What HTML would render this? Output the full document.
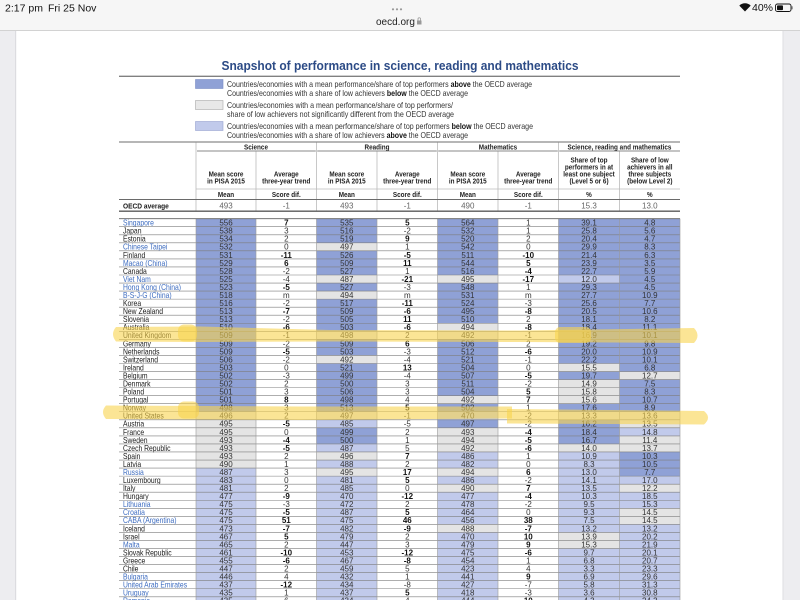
<!DOCTYPE html>
<html><head><meta charset="utf-8"><style>
body{margin:0;width:800px;height:600px;overflow:hidden;background:#fff}
svg{display:block}
text{font-family:"Liberation Sans",Arial,sans-serif}
.d text{font-size:8px;fill:#333;text-anchor:middle}
.d text.k{font-weight:bold;fill:#111}
.d text.n{text-anchor:start;fill:#1a1a1a}
.d text.p{fill:#3d6cc0}
.b{fill:#8fa1d6}.l{fill:#c1caeb}.g{fill:#e4e4e4}
.h text{font-size:7.3px;font-weight:bold;fill:#222;text-anchor:middle}
.lg text{font-size:8.2px;fill:#333}
</style></head><body>
<svg width="800" height="600" viewBox="0 0 800 600" xmlns="http://www.w3.org/2000/svg">
<!-- browser chrome -->
<rect x="0" y="0" width="800" height="31" fill="#f6f6f6"/>
<line x1="0" y1="30.5" x2="800" y2="30.5" stroke="#d2d2d2" stroke-width="1"/>
<text x="5" y="11.5" font-size="10.5" fill="#111">2:17 pm</text>
<text x="48" y="11.5" font-size="10.5" fill="#111">Fri 25 Nov</text>
<circle cx="393" cy="9.3" r="1.1" fill="#999"/><circle cx="397" cy="9.3" r="1.1" fill="#999"/><circle cx="401" cy="9.3" r="1.1" fill="#999"/>
<text x="376" y="25" font-size="10" fill="#222">oecd.org</text>
<rect x="417" y="20.5" width="4.5" height="4" fill="#999"/><path d="M418 20.5v-1.5a1.25 1.25 0 0 1 2.5 0v1.5" stroke="#999" stroke-width="0.8" fill="none"/>
<path d="M745 11.5 L739.3 5.6 A8.2 8.2 0 0 1 750.7 5.6 Z" fill="#111"/>
<text x="752" y="11" font-size="10.5" fill="#111">40%</text>
<rect x="775.5" y="4" width="15.5" height="7.5" rx="2" fill="none" stroke="#111" stroke-width="0.9"/>
<rect x="777" y="5.4" width="6" height="4.7" rx="0.8" fill="#111"/>
<rect x="791.6" y="6.3" width="1.2" height="3" fill="#888"/>
<!-- side margins -->
<rect x="0" y="31" width="16" height="569" fill="#ededf0"/>
<rect x="15" y="31" width="1.2" height="569" fill="#dcdce0"/>
<rect x="783" y="31" width="17" height="569" fill="#ededf0"/>
<rect x="782.5" y="31" width="1" height="569" fill="#dedee2"/>

<!-- title -->
<text x="400" y="70" text-anchor="middle" font-size="13" font-weight="bold" fill="#2c4b86" textLength="357" lengthAdjust="spacingAndGlyphs">Snapshot of performance in science, reading and mathematics</text>
<line x1="119" y1="76.3" x2="680" y2="76.3" stroke="#808080" stroke-width="1.3"/>

<!-- legend -->
<g class="lg">
<rect x="195.5" y="79.5" width="27.5" height="9" fill="#8fa1d6" stroke="#7a8cc4" stroke-width="0.6"/>
<rect x="195.5" y="100.5" width="27.5" height="9" fill="#e8e8e8" stroke="#a8a8a8" stroke-width="0.6"/>
<rect x="195.5" y="121.5" width="27.5" height="9" fill="#c1caeb" stroke="#97a2cf" stroke-width="0.6"/>
<text x="227" y="86.8" textLength="305" lengthAdjust="spacingAndGlyphs">Countries/economies with a mean performance/share of top performers <tspan font-weight="bold" fill="#111">above</tspan> the OECD average</text>
<text x="227" y="95.8" textLength="241" lengthAdjust="spacingAndGlyphs">Countries/economies with a share of low achievers <tspan font-weight="bold" fill="#111">below</tspan> the OECD average</text>
<text x="227" y="107.8" textLength="226" lengthAdjust="spacingAndGlyphs">Countries/economies with a mean performance/share of top performers/</text>
<text x="227" y="116.8" textLength="227" lengthAdjust="spacingAndGlyphs">share of low achievers not significantly different from the OECD average</text>
<text x="227" y="128.8" textLength="306" lengthAdjust="spacingAndGlyphs">Countries/economies with a mean performance/share of top performers <tspan font-weight="bold" fill="#111">below</tspan> the OECD average</text>
<text x="227" y="137.8" textLength="241" lengthAdjust="spacingAndGlyphs">Countries/economies with a share of low achievers <tspan font-weight="bold" fill="#111">above</tspan> the OECD average</text>
</g>

<!-- table header -->
<g stroke-width="0.7" stroke="#b0b0b0">
<line x1="196" y1="142" x2="196" y2="211"/><line x1="316.5" y1="142" x2="316.5" y2="211"/><line x1="437.5" y1="142" x2="437.5" y2="211"/><line x1="558.5" y1="142" x2="558.5" y2="211"/>
<line x1="256" y1="151" x2="256" y2="211"/><line x1="377" y1="151" x2="377" y2="211"/><line x1="498" y1="151" x2="498" y2="211"/><line x1="619.5" y1="151" x2="619.5" y2="211"/>
</g>
<line x1="119" y1="142" x2="680" y2="142" stroke="#8a8a8a" stroke-width="1.3"/>
<g stroke="#8a8a8a" stroke-width="0.9">
<line x1="197" y1="151" x2="315.8" y2="151"/><line x1="317.2" y1="151" x2="436.8" y2="151"/><line x1="438.2" y1="151" x2="557.8" y2="151"/><line x1="559.2" y1="151" x2="680" y2="151"/>
</g>
<line x1="196" y1="189" x2="680" y2="189" stroke="#bdbdbd" stroke-width="0.7"/>
<line x1="119" y1="199.5" x2="680" y2="199.5" stroke="#6a6a6a" stroke-width="1"/>
<line x1="119" y1="211.2" x2="680" y2="211.2" stroke="#5a5a5a" stroke-width="1.4"/>

<g class="h">
<text transform="translate(256,149.6) scale(.87,1)">Science</text>
<text transform="translate(377,149.6) scale(.87,1)">Reading</text>
<text transform="translate(498,149.6) scale(.87,1)">Mathematics</text>
<text transform="translate(619.5,149.6) scale(.87,1)">Science, reading and mathematics</text>

<text transform="translate(226,176.3) scale(.87,1)">Mean score</text>
<text transform="translate(226,183.4) scale(.87,1)">in PISA 2015</text>
<text transform="translate(286.3,176.3) scale(.87,1)">Average</text>
<text transform="translate(286.3,183.4) scale(.87,1)">three-year trend</text>
<text transform="translate(346.8,176.3) scale(.87,1)">Mean score</text>
<text transform="translate(346.8,183.4) scale(.87,1)">in PISA 2015</text>
<text transform="translate(407.3,176.3) scale(.87,1)">Average</text>
<text transform="translate(407.3,183.4) scale(.87,1)">three-year trend</text>
<text transform="translate(467.8,176.3) scale(.87,1)">Mean score</text>
<text transform="translate(467.8,183.4) scale(.87,1)">in PISA 2015</text>
<text transform="translate(528.3,176.3) scale(.87,1)">Average</text>
<text transform="translate(528.3,183.4) scale(.87,1)">three-year trend</text>

<text transform="translate(589,162.6) scale(.87,1)">Share of top</text>
<text transform="translate(589,169.5) scale(.87,1)">performers in at</text>
<text transform="translate(589,176.4) scale(.87,1)">least one subject</text>
<text transform="translate(589,183.3) scale(.87,1)">(Level 5 or 6)</text>
<text transform="translate(649.8,162.6) scale(.87,1)">Share of low</text>
<text transform="translate(649.8,169.5) scale(.87,1)">achievers in all</text>
<text transform="translate(649.8,176.4) scale(.87,1)">three subjects</text>
<text transform="translate(649.8,183.3) scale(.87,1)">(below Level 2)</text>

<text transform="translate(226,196.8) scale(.87,1)">Mean</text>
<text transform="translate(286.3,196.8) scale(.87,1)">Score dif.</text>
<text transform="translate(346.8,196.8) scale(.87,1)">Mean</text>
<text transform="translate(407.3,196.8) scale(.87,1)">Score dif.</text>
<text transform="translate(467.8,196.8) scale(.87,1)">Mean</text>
<text transform="translate(528.3,196.8) scale(.87,1)">Score dif.</text>
<text transform="translate(589,196.8) scale(.87,1)">%</text>
<text transform="translate(649.8,196.8) scale(.87,1)">%</text>
</g>
<text transform="translate(123,208.3) scale(.87,1)" font-size="7.6" font-weight="bold" fill="#1a1a1a">OECD average</text>
<g font-size="8" fill="#666" text-anchor="middle">
<text x="226" y="208.5">493</text><text x="286.3" y="208.5">-1</text><text x="346.8" y="208.5">493</text><text x="407.3" y="208.5">-1</text><text x="467.8" y="208.5">490</text><text x="528.3" y="208.5">-1</text><text x="589" y="208.5">15.3</text><text x="649.8" y="208.5">13.0</text>
</g>

<!-- data rows -->
<g class="d">
<g transform="translate(0,218.68)"><rect class="b" x="196" width="60" height="8.05"/><rect class="b" x="316.5" width="60.5" height="8.05"/><rect class="b" x="437.5" width="60.5" height="8.05"/><rect class="b" x="558.5" width="61" height="8.05"/><rect class="b" x="619.5" width="60.5" height="8.05"/><text class="n p" transform="translate(123,6.9) scale(.85,1)">Singapore</text><text x="226" y="6.9">556</text><text class="k" x="286.3" y="6.9">7</text><text x="346.8" y="6.9">535</text><text class="k" x="407.3" y="6.9">5</text><text x="467.8" y="6.9">564</text><text x="528.3" y="6.9">1</text><text x="589" y="6.9">39.1</text><text x="649.8" y="6.9">4.8</text></g>
<g transform="translate(0,226.72)"><rect class="b" x="196" width="60" height="8.05"/><rect class="b" x="316.5" width="60.5" height="8.05"/><rect class="b" x="437.5" width="60.5" height="8.05"/><rect class="b" x="558.5" width="61" height="8.05"/><rect class="b" x="619.5" width="60.5" height="8.05"/><text class="n" transform="translate(123,6.9) scale(.85,1)">Japan</text><text x="226" y="6.9">538</text><text x="286.3" y="6.9">3</text><text x="346.8" y="6.9">516</text><text x="407.3" y="6.9">-2</text><text x="467.8" y="6.9">532</text><text x="528.3" y="6.9">1</text><text x="589" y="6.9">25.8</text><text x="649.8" y="6.9">5.6</text></g>
<g transform="translate(0,234.77)"><rect class="b" x="196" width="60" height="8.05"/><rect class="b" x="316.5" width="60.5" height="8.05"/><rect class="b" x="437.5" width="60.5" height="8.05"/><rect class="b" x="558.5" width="61" height="8.05"/><rect class="b" x="619.5" width="60.5" height="8.05"/><text class="n" transform="translate(123,6.9) scale(.85,1)">Estonia</text><text x="226" y="6.9">534</text><text x="286.3" y="6.9">2</text><text x="346.8" y="6.9">519</text><text class="k" x="407.3" y="6.9">9</text><text x="467.8" y="6.9">520</text><text x="528.3" y="6.9">2</text><text x="589" y="6.9">20.4</text><text x="649.8" y="6.9">4.7</text></g>
<g transform="translate(0,242.81)"><rect class="b" x="196" width="60" height="8.05"/><rect class="g" x="316.5" width="60.5" height="8.05"/><rect class="b" x="437.5" width="60.5" height="8.05"/><rect class="b" x="558.5" width="61" height="8.05"/><rect class="b" x="619.5" width="60.5" height="8.05"/><text class="n p" transform="translate(123,6.9) scale(.85,1)">Chinese Taipei</text><text x="226" y="6.9">532</text><text x="286.3" y="6.9">0</text><text x="346.8" y="6.9">497</text><text x="407.3" y="6.9">1</text><text x="467.8" y="6.9">542</text><text x="528.3" y="6.9">0</text><text x="589" y="6.9">29.9</text><text x="649.8" y="6.9">8.3</text></g>
<g transform="translate(0,250.86)"><rect class="b" x="196" width="60" height="8.05"/><rect class="b" x="316.5" width="60.5" height="8.05"/><rect class="b" x="437.5" width="60.5" height="8.05"/><rect class="b" x="558.5" width="61" height="8.05"/><rect class="b" x="619.5" width="60.5" height="8.05"/><text class="n" transform="translate(123,6.9) scale(.85,1)">Finland</text><text x="226" y="6.9">531</text><text class="k" x="286.3" y="6.9">-11</text><text x="346.8" y="6.9">526</text><text class="k" x="407.3" y="6.9">-5</text><text x="467.8" y="6.9">511</text><text class="k" x="528.3" y="6.9">-10</text><text x="589" y="6.9">21.4</text><text x="649.8" y="6.9">6.3</text></g>
<g transform="translate(0,258.9)"><rect class="b" x="196" width="60" height="8.05"/><rect class="b" x="316.5" width="60.5" height="8.05"/><rect class="b" x="437.5" width="60.5" height="8.05"/><rect class="b" x="558.5" width="61" height="8.05"/><rect class="b" x="619.5" width="60.5" height="8.05"/><text class="n p" transform="translate(123,6.9) scale(.85,1)">Macao (China)</text><text x="226" y="6.9">529</text><text class="k" x="286.3" y="6.9">6</text><text x="346.8" y="6.9">509</text><text class="k" x="407.3" y="6.9">11</text><text x="467.8" y="6.9">544</text><text class="k" x="528.3" y="6.9">5</text><text x="589" y="6.9">23.9</text><text x="649.8" y="6.9">3.5</text></g>
<g transform="translate(0,266.95)"><rect class="b" x="196" width="60" height="8.05"/><rect class="b" x="316.5" width="60.5" height="8.05"/><rect class="b" x="437.5" width="60.5" height="8.05"/><rect class="b" x="558.5" width="61" height="8.05"/><rect class="b" x="619.5" width="60.5" height="8.05"/><text class="n" transform="translate(123,6.9) scale(.85,1)">Canada</text><text x="226" y="6.9">528</text><text x="286.3" y="6.9">-2</text><text x="346.8" y="6.9">527</text><text x="407.3" y="6.9">1</text><text x="467.8" y="6.9">516</text><text class="k" x="528.3" y="6.9">-4</text><text x="589" y="6.9">22.7</text><text x="649.8" y="6.9">5.9</text></g>
<g transform="translate(0,274.99)"><rect class="b" x="196" width="60" height="8.05"/><rect class="g" x="316.5" width="60.5" height="8.05"/><rect class="g" x="437.5" width="60.5" height="8.05"/><rect class="l" x="558.5" width="61" height="8.05"/><rect class="b" x="619.5" width="60.5" height="8.05"/><text class="n p" transform="translate(123,6.9) scale(.85,1)">Viet Nam</text><text x="226" y="6.9">525</text><text x="286.3" y="6.9">-4</text><text x="346.8" y="6.9">487</text><text class="k" x="407.3" y="6.9">-21</text><text x="467.8" y="6.9">495</text><text class="k" x="528.3" y="6.9">-17</text><text x="589" y="6.9">12.0</text><text x="649.8" y="6.9">4.5</text></g>
<g transform="translate(0,283.04)"><rect class="b" x="196" width="60" height="8.05"/><rect class="b" x="316.5" width="60.5" height="8.05"/><rect class="b" x="437.5" width="60.5" height="8.05"/><rect class="b" x="558.5" width="61" height="8.05"/><rect class="b" x="619.5" width="60.5" height="8.05"/><text class="n p" transform="translate(123,6.9) scale(.85,1)">Hong Kong (China)</text><text x="226" y="6.9">523</text><text class="k" x="286.3" y="6.9">-5</text><text x="346.8" y="6.9">527</text><text x="407.3" y="6.9">-3</text><text x="467.8" y="6.9">548</text><text x="528.3" y="6.9">1</text><text x="589" y="6.9">29.3</text><text x="649.8" y="6.9">4.5</text></g>
<g transform="translate(0,291.08)"><rect class="b" x="196" width="60" height="8.05"/><rect class="g" x="316.5" width="60.5" height="8.05"/><rect class="b" x="437.5" width="60.5" height="8.05"/><rect class="b" x="558.5" width="61" height="8.05"/><rect class="b" x="619.5" width="60.5" height="8.05"/><text class="n p" transform="translate(123,6.9) scale(.85,1)">B-S-J-G (China)</text><text x="226" y="6.9">518</text><text x="286.3" y="6.9">m</text><text x="346.8" y="6.9">494</text><text x="407.3" y="6.9">m</text><text x="467.8" y="6.9">531</text><text x="528.3" y="6.9">m</text><text x="589" y="6.9">27.7</text><text x="649.8" y="6.9">10.9</text></g>
<g transform="translate(0,299.13)"><rect class="b" x="196" width="60" height="8.05"/><rect class="b" x="316.5" width="60.5" height="8.05"/><rect class="b" x="437.5" width="60.5" height="8.05"/><rect class="b" x="558.5" width="61" height="8.05"/><rect class="b" x="619.5" width="60.5" height="8.05"/><text class="n" transform="translate(123,6.9) scale(.85,1)">Korea</text><text x="226" y="6.9">516</text><text x="286.3" y="6.9">-2</text><text x="346.8" y="6.9">517</text><text class="k" x="407.3" y="6.9">-11</text><text x="467.8" y="6.9">524</text><text x="528.3" y="6.9">-3</text><text x="589" y="6.9">25.6</text><text x="649.8" y="6.9">7.7</text></g>
<g transform="translate(0,307.17)"><rect class="b" x="196" width="60" height="8.05"/><rect class="b" x="316.5" width="60.5" height="8.05"/><rect class="b" x="437.5" width="60.5" height="8.05"/><rect class="b" x="558.5" width="61" height="8.05"/><rect class="b" x="619.5" width="60.5" height="8.05"/><text class="n" transform="translate(123,6.9) scale(.85,1)">New Zealand</text><text x="226" y="6.9">513</text><text class="k" x="286.3" y="6.9">-7</text><text x="346.8" y="6.9">509</text><text class="k" x="407.3" y="6.9">-6</text><text x="467.8" y="6.9">495</text><text class="k" x="528.3" y="6.9">-8</text><text x="589" y="6.9">20.5</text><text x="649.8" y="6.9">10.6</text></g>
<g transform="translate(0,315.22)"><rect class="b" x="196" width="60" height="8.05"/><rect class="b" x="316.5" width="60.5" height="8.05"/><rect class="b" x="437.5" width="60.5" height="8.05"/><rect class="b" x="558.5" width="61" height="8.05"/><rect class="b" x="619.5" width="60.5" height="8.05"/><text class="n" transform="translate(123,6.9) scale(.85,1)">Slovenia</text><text x="226" y="6.9">513</text><text x="286.3" y="6.9">-2</text><text x="346.8" y="6.9">505</text><text class="k" x="407.3" y="6.9">11</text><text x="467.8" y="6.9">510</text><text x="528.3" y="6.9">2</text><text x="589" y="6.9">18.1</text><text x="649.8" y="6.9">8.2</text></g>
<g transform="translate(0,323.26)"><rect class="b" x="196" width="60" height="8.05"/><rect class="b" x="316.5" width="60.5" height="8.05"/><rect class="g" x="437.5" width="60.5" height="8.05"/><rect class="b" x="558.5" width="61" height="8.05"/><rect class="b" x="619.5" width="60.5" height="8.05"/><text class="n" transform="translate(123,6.9) scale(.85,1)">Australia</text><text x="226" y="6.9">510</text><text class="k" x="286.3" y="6.9">-6</text><text x="346.8" y="6.9">503</text><text class="k" x="407.3" y="6.9">-6</text><text x="467.8" y="6.9">494</text><text class="k" x="528.3" y="6.9">-8</text><text x="589" y="6.9">18.4</text><text x="649.8" y="6.9">11.1</text></g>
<g transform="translate(0,331.31)"><rect class="b" x="196" width="60" height="8.05"/><rect class="g" x="316.5" width="60.5" height="8.05"/><rect class="g" x="437.5" width="60.5" height="8.05"/><rect class="b" x="558.5" width="61" height="8.05"/><rect class="b" x="619.5" width="60.5" height="8.05"/><text class="n" transform="translate(123,6.9) scale(.85,1)">United Kingdom</text><text x="226" y="6.9">509</text><text x="286.3" y="6.9">-1</text><text x="346.8" y="6.9">498</text><text x="407.3" y="6.9">2</text><text x="467.8" y="6.9">492</text><text x="528.3" y="6.9">-1</text><text x="589" y="6.9">16.9</text><text x="649.8" y="6.9">10.1</text></g>
<g transform="translate(0,339.35)"><rect class="b" x="196" width="60" height="8.05"/><rect class="b" x="316.5" width="60.5" height="8.05"/><rect class="b" x="437.5" width="60.5" height="8.05"/><rect class="b" x="558.5" width="61" height="8.05"/><rect class="b" x="619.5" width="60.5" height="8.05"/><text class="n" transform="translate(123,6.9) scale(.85,1)">Germany</text><text x="226" y="6.9">509</text><text x="286.3" y="6.9">-2</text><text x="346.8" y="6.9">509</text><text class="k" x="407.3" y="6.9">6</text><text x="467.8" y="6.9">506</text><text x="528.3" y="6.9">2</text><text x="589" y="6.9">19.2</text><text x="649.8" y="6.9">9.8</text></g>
<g transform="translate(0,347.4)"><rect class="b" x="196" width="60" height="8.05"/><rect class="b" x="316.5" width="60.5" height="8.05"/><rect class="b" x="437.5" width="60.5" height="8.05"/><rect class="b" x="558.5" width="61" height="8.05"/><rect class="b" x="619.5" width="60.5" height="8.05"/><text class="n" transform="translate(123,6.9) scale(.85,1)">Netherlands</text><text x="226" y="6.9">509</text><text class="k" x="286.3" y="6.9">-5</text><text x="346.8" y="6.9">503</text><text x="407.3" y="6.9">-3</text><text x="467.8" y="6.9">512</text><text class="k" x="528.3" y="6.9">-6</text><text x="589" y="6.9">20.0</text><text x="649.8" y="6.9">10.9</text></g>
<g transform="translate(0,355.44)"><rect class="b" x="196" width="60" height="8.05"/><rect class="g" x="316.5" width="60.5" height="8.05"/><rect class="b" x="437.5" width="60.5" height="8.05"/><rect class="b" x="558.5" width="61" height="8.05"/><rect class="b" x="619.5" width="60.5" height="8.05"/><text class="n" transform="translate(123,6.9) scale(.85,1)">Switzerland</text><text x="226" y="6.9">506</text><text x="286.3" y="6.9">-2</text><text x="346.8" y="6.9">492</text><text x="407.3" y="6.9">-4</text><text x="467.8" y="6.9">521</text><text x="528.3" y="6.9">-1</text><text x="589" y="6.9">22.2</text><text x="649.8" y="6.9">10.1</text></g>
<g transform="translate(0,363.49)"><rect class="b" x="196" width="60" height="8.05"/><rect class="b" x="316.5" width="60.5" height="8.05"/><rect class="b" x="437.5" width="60.5" height="8.05"/><rect class="g" x="558.5" width="61" height="8.05"/><rect class="b" x="619.5" width="60.5" height="8.05"/><text class="n" transform="translate(123,6.9) scale(.85,1)">Ireland</text><text x="226" y="6.9">503</text><text x="286.3" y="6.9">0</text><text x="346.8" y="6.9">521</text><text class="k" x="407.3" y="6.9">13</text><text x="467.8" y="6.9">504</text><text x="528.3" y="6.9">0</text><text x="589" y="6.9">15.5</text><text x="649.8" y="6.9">6.8</text></g>
<g transform="translate(0,371.53)"><rect class="b" x="196" width="60" height="8.05"/><rect class="b" x="316.5" width="60.5" height="8.05"/><rect class="b" x="437.5" width="60.5" height="8.05"/><rect class="b" x="558.5" width="61" height="8.05"/><rect class="g" x="619.5" width="60.5" height="8.05"/><text class="n" transform="translate(123,6.9) scale(.85,1)">Belgium</text><text x="226" y="6.9">502</text><text x="286.3" y="6.9">-3</text><text x="346.8" y="6.9">499</text><text x="407.3" y="6.9">-4</text><text x="467.8" y="6.9">507</text><text class="k" x="528.3" y="6.9">-5</text><text x="589" y="6.9">19.7</text><text x="649.8" y="6.9">12.7</text></g>
<g transform="translate(0,379.58)"><rect class="b" x="196" width="60" height="8.05"/><rect class="b" x="316.5" width="60.5" height="8.05"/><rect class="b" x="437.5" width="60.5" height="8.05"/><rect class="g" x="558.5" width="61" height="8.05"/><rect class="b" x="619.5" width="60.5" height="8.05"/><text class="n" transform="translate(123,6.9) scale(.85,1)">Denmark</text><text x="226" y="6.9">502</text><text x="286.3" y="6.9">2</text><text x="346.8" y="6.9">500</text><text x="407.3" y="6.9">3</text><text x="467.8" y="6.9">511</text><text x="528.3" y="6.9">-2</text><text x="589" y="6.9">14.9</text><text x="649.8" y="6.9">7.5</text></g>
<g transform="translate(0,387.62)"><rect class="b" x="196" width="60" height="8.05"/><rect class="b" x="316.5" width="60.5" height="8.05"/><rect class="b" x="437.5" width="60.5" height="8.05"/><rect class="g" x="558.5" width="61" height="8.05"/><rect class="b" x="619.5" width="60.5" height="8.05"/><text class="n" transform="translate(123,6.9) scale(.85,1)">Poland</text><text x="226" y="6.9">501</text><text x="286.3" y="6.9">3</text><text x="346.8" y="6.9">506</text><text x="407.3" y="6.9">3</text><text x="467.8" y="6.9">504</text><text class="k" x="528.3" y="6.9">5</text><text x="589" y="6.9">15.8</text><text x="649.8" y="6.9">8.3</text></g>
<g transform="translate(0,395.67)"><rect class="b" x="196" width="60" height="8.05"/><rect class="b" x="316.5" width="60.5" height="8.05"/><rect class="g" x="437.5" width="60.5" height="8.05"/><rect class="g" x="558.5" width="61" height="8.05"/><rect class="b" x="619.5" width="60.5" height="8.05"/><text class="n" transform="translate(123,6.9) scale(.85,1)">Portugal</text><text x="226" y="6.9">501</text><text class="k" x="286.3" y="6.9">8</text><text x="346.8" y="6.9">498</text><text x="407.3" y="6.9">4</text><text x="467.8" y="6.9">492</text><text class="k" x="528.3" y="6.9">7</text><text x="589" y="6.9">15.6</text><text x="649.8" y="6.9">10.7</text></g>
<g transform="translate(0,403.71)"><rect class="b" x="196" width="60" height="8.05"/><rect class="b" x="316.5" width="60.5" height="8.05"/><rect class="b" x="437.5" width="60.5" height="8.05"/><rect class="b" x="558.5" width="61" height="8.05"/><rect class="b" x="619.5" width="60.5" height="8.05"/><text class="n" transform="translate(123,6.9) scale(.85,1)">Norway</text><text x="226" y="6.9">498</text><text x="286.3" y="6.9">3</text><text x="346.8" y="6.9">513</text><text class="k" x="407.3" y="6.9">5</text><text x="467.8" y="6.9">502</text><text x="528.3" y="6.9">1</text><text x="589" y="6.9">17.6</text><text x="649.8" y="6.9">8.9</text></g>
<g transform="translate(0,411.76)"><rect class="g" x="196" width="60" height="8.05"/><rect class="g" x="316.5" width="60.5" height="8.05"/><rect class="l" x="437.5" width="60.5" height="8.05"/><rect class="g" x="558.5" width="61" height="8.05"/><rect class="g" x="619.5" width="60.5" height="8.05"/><text class="n" transform="translate(123,6.9) scale(.85,1)">United States</text><text x="226" y="6.9">496</text><text x="286.3" y="6.9">2</text><text x="346.8" y="6.9">497</text><text x="407.3" y="6.9">-1</text><text x="467.8" y="6.9">470</text><text x="528.3" y="6.9">-2</text><text x="589" y="6.9">13.3</text><text x="649.8" y="6.9">13.6</text></g>
<g transform="translate(0,419.8)"><rect class="g" x="196" width="60" height="8.05"/><rect class="l" x="316.5" width="60.5" height="8.05"/><rect class="b" x="437.5" width="60.5" height="8.05"/><rect class="b" x="558.5" width="61" height="8.05"/><rect class="g" x="619.5" width="60.5" height="8.05"/><text class="n" transform="translate(123,6.9) scale(.85,1)">Austria</text><text x="226" y="6.9">495</text><text class="k" x="286.3" y="6.9">-5</text><text x="346.8" y="6.9">485</text><text x="407.3" y="6.9">-5</text><text x="467.8" y="6.9">497</text><text x="528.3" y="6.9">-2</text><text x="589" y="6.9">16.2</text><text x="649.8" y="6.9">13.5</text></g>
<g transform="translate(0,427.85)"><rect class="g" x="196" width="60" height="8.05"/><rect class="b" x="316.5" width="60.5" height="8.05"/><rect class="g" x="437.5" width="60.5" height="8.05"/><rect class="b" x="558.5" width="61" height="8.05"/><rect class="l" x="619.5" width="60.5" height="8.05"/><text class="n" transform="translate(123,6.9) scale(.85,1)">France</text><text x="226" y="6.9">495</text><text x="286.3" y="6.9">0</text><text x="346.8" y="6.9">499</text><text x="407.3" y="6.9">2</text><text x="467.8" y="6.9">493</text><text class="k" x="528.3" y="6.9">-4</text><text x="589" y="6.9">18.4</text><text x="649.8" y="6.9">14.8</text></g>
<g transform="translate(0,435.89)"><rect class="g" x="196" width="60" height="8.05"/><rect class="b" x="316.5" width="60.5" height="8.05"/><rect class="g" x="437.5" width="60.5" height="8.05"/><rect class="b" x="558.5" width="61" height="8.05"/><rect class="g" x="619.5" width="60.5" height="8.05"/><text class="n" transform="translate(123,6.9) scale(.85,1)">Sweden</text><text x="226" y="6.9">493</text><text class="k" x="286.3" y="6.9">-4</text><text x="346.8" y="6.9">500</text><text x="407.3" y="6.9">1</text><text x="467.8" y="6.9">494</text><text class="k" x="528.3" y="6.9">-5</text><text x="589" y="6.9">16.7</text><text x="649.8" y="6.9">11.4</text></g>
<g transform="translate(0,443.94)"><rect class="g" x="196" width="60" height="8.05"/><rect class="l" x="316.5" width="60.5" height="8.05"/><rect class="g" x="437.5" width="60.5" height="8.05"/><rect class="g" x="558.5" width="61" height="8.05"/><rect class="g" x="619.5" width="60.5" height="8.05"/><text class="n" transform="translate(123,6.9) scale(.85,1)">Czech Republic</text><text x="226" y="6.9">493</text><text class="k" x="286.3" y="6.9">-5</text><text x="346.8" y="6.9">487</text><text x="407.3" y="6.9">5</text><text x="467.8" y="6.9">492</text><text class="k" x="528.3" y="6.9">-6</text><text x="589" y="6.9">14.0</text><text x="649.8" y="6.9">13.7</text></g>
<g transform="translate(0,451.98)"><rect class="g" x="196" width="60" height="8.05"/><rect class="g" x="316.5" width="60.5" height="8.05"/><rect class="l" x="437.5" width="60.5" height="8.05"/><rect class="l" x="558.5" width="61" height="8.05"/><rect class="b" x="619.5" width="60.5" height="8.05"/><text class="n" transform="translate(123,6.9) scale(.85,1)">Spain</text><text x="226" y="6.9">493</text><text x="286.3" y="6.9">2</text><text x="346.8" y="6.9">496</text><text class="k" x="407.3" y="6.9">7</text><text x="467.8" y="6.9">486</text><text x="528.3" y="6.9">1</text><text x="589" y="6.9">10.9</text><text x="649.8" y="6.9">10.3</text></g>
<g transform="translate(0,460.03)"><rect class="g" x="196" width="60" height="8.05"/><rect class="l" x="316.5" width="60.5" height="8.05"/><rect class="l" x="437.5" width="60.5" height="8.05"/><rect class="l" x="558.5" width="61" height="8.05"/><rect class="b" x="619.5" width="60.5" height="8.05"/><text class="n" transform="translate(123,6.9) scale(.85,1)">Latvia</text><text x="226" y="6.9">490</text><text x="286.3" y="6.9">1</text><text x="346.8" y="6.9">488</text><text x="407.3" y="6.9">2</text><text x="467.8" y="6.9">482</text><text x="528.3" y="6.9">0</text><text x="589" y="6.9">8.3</text><text x="649.8" y="6.9">10.5</text></g>
<g transform="translate(0,468.07)"><rect class="l" x="196" width="60" height="8.05"/><rect class="g" x="316.5" width="60.5" height="8.05"/><rect class="g" x="437.5" width="60.5" height="8.05"/><rect class="l" x="558.5" width="61" height="8.05"/><rect class="b" x="619.5" width="60.5" height="8.05"/><text class="n p" transform="translate(123,6.9) scale(.85,1)">Russia</text><text x="226" y="6.9">487</text><text x="286.3" y="6.9">3</text><text x="346.8" y="6.9">495</text><text class="k" x="407.3" y="6.9">17</text><text x="467.8" y="6.9">494</text><text class="k" x="528.3" y="6.9">6</text><text x="589" y="6.9">13.0</text><text x="649.8" y="6.9">7.7</text></g>
<g transform="translate(0,476.12)"><rect class="l" x="196" width="60" height="8.05"/><rect class="l" x="316.5" width="60.5" height="8.05"/><rect class="l" x="437.5" width="60.5" height="8.05"/><rect class="l" x="558.5" width="61" height="8.05"/><rect class="l" x="619.5" width="60.5" height="8.05"/><text class="n" transform="translate(123,6.9) scale(.85,1)">Luxembourg</text><text x="226" y="6.9">483</text><text x="286.3" y="6.9">0</text><text x="346.8" y="6.9">481</text><text class="k" x="407.3" y="6.9">5</text><text x="467.8" y="6.9">486</text><text x="528.3" y="6.9">-2</text><text x="589" y="6.9">14.1</text><text x="649.8" y="6.9">17.0</text></g>
<g transform="translate(0,484.16)"><rect class="l" x="196" width="60" height="8.05"/><rect class="l" x="316.5" width="60.5" height="8.05"/><rect class="g" x="437.5" width="60.5" height="8.05"/><rect class="l" x="558.5" width="61" height="8.05"/><rect class="g" x="619.5" width="60.5" height="8.05"/><text class="n" transform="translate(123,6.9) scale(.85,1)">Italy</text><text x="226" y="6.9">481</text><text x="286.3" y="6.9">2</text><text x="346.8" y="6.9">485</text><text x="407.3" y="6.9">0</text><text x="467.8" y="6.9">490</text><text class="k" x="528.3" y="6.9">7</text><text x="589" y="6.9">13.5</text><text x="649.8" y="6.9">12.2</text></g>
<g transform="translate(0,492.21)"><rect class="l" x="196" width="60" height="8.05"/><rect class="l" x="316.5" width="60.5" height="8.05"/><rect class="l" x="437.5" width="60.5" height="8.05"/><rect class="l" x="558.5" width="61" height="8.05"/><rect class="l" x="619.5" width="60.5" height="8.05"/><text class="n" transform="translate(123,6.9) scale(.85,1)">Hungary</text><text x="226" y="6.9">477</text><text class="k" x="286.3" y="6.9">-9</text><text x="346.8" y="6.9">470</text><text class="k" x="407.3" y="6.9">-12</text><text x="467.8" y="6.9">477</text><text class="k" x="528.3" y="6.9">-4</text><text x="589" y="6.9">10.3</text><text x="649.8" y="6.9">18.5</text></g>
<g transform="translate(0,500.25)"><rect class="l" x="196" width="60" height="8.05"/><rect class="l" x="316.5" width="60.5" height="8.05"/><rect class="l" x="437.5" width="60.5" height="8.05"/><rect class="l" x="558.5" width="61" height="8.05"/><rect class="l" x="619.5" width="60.5" height="8.05"/><text class="n p" transform="translate(123,6.9) scale(.85,1)">Lithuania</text><text x="226" y="6.9">475</text><text x="286.3" y="6.9">-3</text><text x="346.8" y="6.9">472</text><text x="407.3" y="6.9">2</text><text x="467.8" y="6.9">478</text><text x="528.3" y="6.9">-2</text><text x="589" y="6.9">9.5</text><text x="649.8" y="6.9">15.3</text></g>
<g transform="translate(0,508.3)"><rect class="l" x="196" width="60" height="8.05"/><rect class="l" x="316.5" width="60.5" height="8.05"/><rect class="l" x="437.5" width="60.5" height="8.05"/><rect class="l" x="558.5" width="61" height="8.05"/><rect class="g" x="619.5" width="60.5" height="8.05"/><text class="n p" transform="translate(123,6.9) scale(.85,1)">Croatia</text><text x="226" y="6.9">475</text><text class="k" x="286.3" y="6.9">-5</text><text x="346.8" y="6.9">487</text><text class="k" x="407.3" y="6.9">5</text><text x="467.8" y="6.9">464</text><text x="528.3" y="6.9">0</text><text x="589" y="6.9">9.3</text><text x="649.8" y="6.9">14.5</text></g>
<g transform="translate(0,516.34)"><rect class="l" x="196" width="60" height="8.05"/><rect class="l" x="316.5" width="60.5" height="8.05"/><rect class="l" x="437.5" width="60.5" height="8.05"/><rect class="l" x="558.5" width="61" height="8.05"/><rect class="g" x="619.5" width="60.5" height="8.05"/><text class="n p" transform="translate(123,6.9) scale(.85,1)">CABA (Argentina)</text><text x="226" y="6.9">475</text><text class="k" x="286.3" y="6.9">51</text><text x="346.8" y="6.9">475</text><text class="k" x="407.3" y="6.9">46</text><text x="467.8" y="6.9">456</text><text class="k" x="528.3" y="6.9">38</text><text x="589" y="6.9">7.5</text><text x="649.8" y="6.9">14.5</text></g>
<g transform="translate(0,524.39)"><rect class="l" x="196" width="60" height="8.05"/><rect class="l" x="316.5" width="60.5" height="8.05"/><rect class="g" x="437.5" width="60.5" height="8.05"/><rect class="l" x="558.5" width="61" height="8.05"/><rect class="l" x="619.5" width="60.5" height="8.05"/><text class="n" transform="translate(123,6.9) scale(.85,1)">Iceland</text><text x="226" y="6.9">473</text><text class="k" x="286.3" y="6.9">-7</text><text x="346.8" y="6.9">482</text><text class="k" x="407.3" y="6.9">-9</text><text x="467.8" y="6.9">488</text><text class="k" x="528.3" y="6.9">-7</text><text x="589" y="6.9">13.2</text><text x="649.8" y="6.9">13.2</text></g>
<g transform="translate(0,532.43)"><rect class="l" x="196" width="60" height="8.05"/><rect class="l" x="316.5" width="60.5" height="8.05"/><rect class="l" x="437.5" width="60.5" height="8.05"/><rect class="g" x="558.5" width="61" height="8.05"/><rect class="l" x="619.5" width="60.5" height="8.05"/><text class="n" transform="translate(123,6.9) scale(.85,1)">Israel</text><text x="226" y="6.9">467</text><text class="k" x="286.3" y="6.9">5</text><text x="346.8" y="6.9">479</text><text x="407.3" y="6.9">2</text><text x="467.8" y="6.9">470</text><text class="k" x="528.3" y="6.9">10</text><text x="589" y="6.9">13.9</text><text x="649.8" y="6.9">20.2</text></g>
<g transform="translate(0,540.48)"><rect class="l" x="196" width="60" height="8.05"/><rect class="l" x="316.5" width="60.5" height="8.05"/><rect class="l" x="437.5" width="60.5" height="8.05"/><rect class="g" x="558.5" width="61" height="8.05"/><rect class="l" x="619.5" width="60.5" height="8.05"/><text class="n p" transform="translate(123,6.9) scale(.85,1)">Malta</text><text x="226" y="6.9">465</text><text x="286.3" y="6.9">2</text><text x="346.8" y="6.9">447</text><text x="407.3" y="6.9">3</text><text x="467.8" y="6.9">479</text><text class="k" x="528.3" y="6.9">9</text><text x="589" y="6.9">15.3</text><text x="649.8" y="6.9">21.9</text></g>
<g transform="translate(0,548.52)"><rect class="l" x="196" width="60" height="8.05"/><rect class="l" x="316.5" width="60.5" height="8.05"/><rect class="l" x="437.5" width="60.5" height="8.05"/><rect class="l" x="558.5" width="61" height="8.05"/><rect class="l" x="619.5" width="60.5" height="8.05"/><text class="n" transform="translate(123,6.9) scale(.85,1)">Slovak Republic</text><text x="226" y="6.9">461</text><text class="k" x="286.3" y="6.9">-10</text><text x="346.8" y="6.9">453</text><text class="k" x="407.3" y="6.9">-12</text><text x="467.8" y="6.9">475</text><text class="k" x="528.3" y="6.9">-6</text><text x="589" y="6.9">9.7</text><text x="649.8" y="6.9">20.1</text></g>
<g transform="translate(0,556.57)"><rect class="l" x="196" width="60" height="8.05"/><rect class="l" x="316.5" width="60.5" height="8.05"/><rect class="l" x="437.5" width="60.5" height="8.05"/><rect class="l" x="558.5" width="61" height="8.05"/><rect class="l" x="619.5" width="60.5" height="8.05"/><text class="n" transform="translate(123,6.9) scale(.85,1)">Greece</text><text x="226" y="6.9">455</text><text class="k" x="286.3" y="6.9">-6</text><text x="346.8" y="6.9">467</text><text class="k" x="407.3" y="6.9">-8</text><text x="467.8" y="6.9">454</text><text x="528.3" y="6.9">1</text><text x="589" y="6.9">6.8</text><text x="649.8" y="6.9">20.7</text></g>
<g transform="translate(0,564.61)"><rect class="l" x="196" width="60" height="8.05"/><rect class="l" x="316.5" width="60.5" height="8.05"/><rect class="l" x="437.5" width="60.5" height="8.05"/><rect class="l" x="558.5" width="61" height="8.05"/><rect class="l" x="619.5" width="60.5" height="8.05"/><text class="n" transform="translate(123,6.9) scale(.85,1)">Chile</text><text x="226" y="6.9">447</text><text x="286.3" y="6.9">2</text><text x="346.8" y="6.9">459</text><text x="407.3" y="6.9">5</text><text x="467.8" y="6.9">423</text><text x="528.3" y="6.9">4</text><text x="589" y="6.9">3.3</text><text x="649.8" y="6.9">23.3</text></g>
<g transform="translate(0,572.66)"><rect class="l" x="196" width="60" height="8.05"/><rect class="l" x="316.5" width="60.5" height="8.05"/><rect class="l" x="437.5" width="60.5" height="8.05"/><rect class="l" x="558.5" width="61" height="8.05"/><rect class="l" x="619.5" width="60.5" height="8.05"/><text class="n p" transform="translate(123,6.9) scale(.85,1)">Bulgaria</text><text x="226" y="6.9">446</text><text x="286.3" y="6.9">4</text><text x="346.8" y="6.9">432</text><text x="407.3" y="6.9">1</text><text x="467.8" y="6.9">441</text><text class="k" x="528.3" y="6.9">9</text><text x="589" y="6.9">6.9</text><text x="649.8" y="6.9">29.6</text></g>
<g transform="translate(0,580.7)"><rect class="l" x="196" width="60" height="8.05"/><rect class="l" x="316.5" width="60.5" height="8.05"/><rect class="l" x="437.5" width="60.5" height="8.05"/><rect class="l" x="558.5" width="61" height="8.05"/><rect class="l" x="619.5" width="60.5" height="8.05"/><text class="n p" transform="translate(123,6.9) scale(.85,1)">United Arab Emirates</text><text x="226" y="6.9">437</text><text class="k" x="286.3" y="6.9">-12</text><text x="346.8" y="6.9">434</text><text x="407.3" y="6.9">-8</text><text x="467.8" y="6.9">427</text><text x="528.3" y="6.9">-7</text><text x="589" y="6.9">5.8</text><text x="649.8" y="6.9">31.3</text></g>
<g transform="translate(0,588.75)"><rect class="l" x="196" width="60" height="8.05"/><rect class="l" x="316.5" width="60.5" height="8.05"/><rect class="l" x="437.5" width="60.5" height="8.05"/><rect class="l" x="558.5" width="61" height="8.05"/><rect class="l" x="619.5" width="60.5" height="8.05"/><text class="n p" transform="translate(123,6.9) scale(.85,1)">Uruguay</text><text x="226" y="6.9">435</text><text x="286.3" y="6.9">1</text><text x="346.8" y="6.9">437</text><text class="k" x="407.3" y="6.9">5</text><text x="467.8" y="6.9">418</text><text x="528.3" y="6.9">-3</text><text x="589" y="6.9">3.6</text><text x="649.8" y="6.9">30.8</text></g>
<g transform="translate(0,596.79)"><rect class="l" x="196" width="60" height="8.05"/><rect class="l" x="316.5" width="60.5" height="8.05"/><rect class="l" x="437.5" width="60.5" height="8.05"/><rect class="l" x="558.5" width="61" height="8.05"/><rect class="l" x="619.5" width="60.5" height="8.05"/><text class="n p" transform="translate(123,6.9) scale(.85,1)">Romania</text><text x="226" y="6.9">435</text><text x="286.3" y="6.9">6</text><text x="346.8" y="6.9">434</text><text x="407.3" y="6.9">4</text><text x="467.8" y="6.9">444</text><text class="k" x="528.3" y="6.9">10</text><text x="589" y="6.9">4.3</text><text x="649.8" y="6.9">24.3</text></g>
</g>

<!-- grid lines -->
<path d="M119 218.68H680M119 226.72H680M119 234.77H680M119 242.81H680M119 250.86H680M119 258.9H680M119 266.95H680M119 274.99H680M119 283.04H680M119 291.08H680M119 299.13H680M119 307.17H680M119 315.22H680M119 323.26H680M119 331.31H680M119 339.35H680M119 347.4H680M119 355.44H680M119 363.49H680M119 371.53H680M119 379.58H680M119 387.62H680M119 395.67H680M119 403.71H680M119 411.76H680M119 419.8H680M119 427.85H680M119 435.89H680M119 443.94H680M119 451.98H680M119 460.03H680M119 468.07H680M119 476.12H680M119 484.16H680M119 492.21H680M119 500.25H680M119 508.3H680M119 516.34H680M119 524.39H680M119 532.43H680M119 540.48H680M119 548.52H680M119 556.57H680M119 564.61H680M119 572.66H680M119 580.7H680M119 588.75H680M119 596.79H680" stroke="#7d7d7d" stroke-width="0.6" fill="none"/>
<path d="M196 218.68V600M256 218.68V600M316.5 218.68V600M377 218.68V600M437.5 218.68V600M498 218.68V600M558.5 218.68V600M619.5 218.68V600M680 218.68V600" stroke="#9a9a9a" stroke-width="0.6" fill="none"/>
<line x1="119" y1="218.68" x2="680" y2="218.68" stroke="#6a6a6a" stroke-width="0.9"/>

<!-- highlighter strokes -->
<g fill="rgb(248,212,78)" fill-opacity="0.6">
<path d="M116 327 L200 326.5 L330 330 L520 330.5 L694 328 Q701 335.5 694 343 L520 342 L330 341.5 L200 342 L116 341.5 Q110 334 116 327 Z"/>
<rect x="178" y="324.5" width="19" height="17" rx="6"/>
<rect x="555" y="327" width="36" height="16" rx="5"/>
<path d="M106 405.5 L300 406.5 L512 406.5 L512 418.5 L300 420 L106 419 Q100 412 106 405.5 Z"/>
<path d="M507 409 L704 411 Q712 417.5 704 424.5 L507 423.5 Z"/>
<rect x="178" y="401.5" width="21" height="17" rx="6"/>
</g>
</svg>
</body></html>
